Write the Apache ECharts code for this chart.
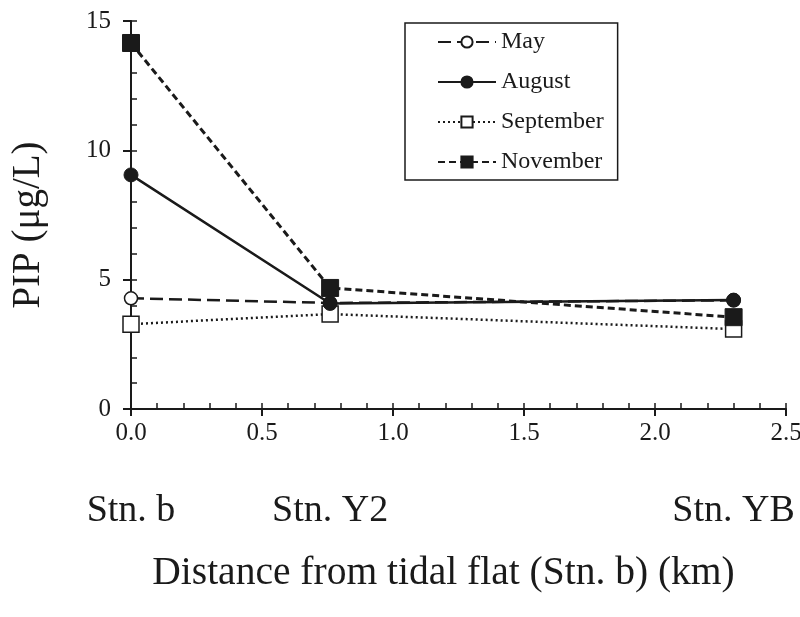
<!DOCTYPE html>
<html>
<head>
<meta charset="utf-8">
<script src="https://cdn.jsdelivr.net/npm/echarts@6/dist/echarts.min.js"></script>
<style>
  html, body { margin: 0; padding: 0; background: #fff; }
  #chart { width: 800px; height: 617px; }
</style>
</head>
<body>
<div id="chart"></div>
<script>
// distance of each station from the tidal flat (km)
let stationKm    = [0, 0.76, 2.3];
let stationNames = ['Stn. b', 'Stn. Y2', 'Stn. YB'];

// PIP (ug/L) at each station
let may       = [4.28, 4.1, 4.2];
let august    = [9.05, 4.08, 4.21];
let september = [3.28, 3.67, 3.09];
let november  = [14.15, 4.68, 3.55];

let seriesNames = ['May', 'August', 'September', 'November'];

let font = 'Liberation Serif';
let ink  = '#1a1a1a';

function pairs(ys) {
    return stationKm.map((x, i) => [x, ys[i]]);
}

let chart = echarts.init(document.getElementById('chart'), null, {renderer: 'canvas'});

let option = {
    animation: false,
    backgroundColor: '#fff',
    textStyle: {fontFamily: font, color: ink},
    grid: {left: 131, right: 14, top: 21, bottom: 208, containLabel: false, outerBoundsMode: 'none'},
    legend: {
        data: seriesNames,
        orient: 'vertical',
        left: 405,
        top: 23,
        padding: [7, 14, 6, 32],
        itemGap: 16,
        itemWidth: 58,
        itemHeight: 14,
        borderColor: ink,
        borderWidth: 1.5,
        textStyle: {fontFamily: font, fontSize: 24, color: ink}
    },
    xAxis: [
        {
            // main axis: labels + outward major ticks
            type: 'value', min: 0, max: 2.5, interval: 0.5,
            axisLine: {lineStyle: {color: ink, width: 2}},
            axisTick: {length: 7, lineStyle: {color: ink, width: 2}},
            axisLabel: {fontFamily: font, fontSize: 25, color: ink, margin: 12,
                        formatter: v => v.toFixed(1)},
            splitLine: {show: false}
        },
        {
            // inside minor ticks every 0.1
            type: 'value', min: 0, max: 2.5, interval: 0.1, position: 'bottom',
            axisLine: {show: false},
            axisTick: {inside: true, length: 6, lineStyle: {color: ink, width: 1.5}},
            axisLabel: {show: false},
            splitLine: {show: false}
        },
        {
            // station names under their distance
            type: 'value', min: 0, max: 2.5, position: 'bottom', offset: 83,
            axisLine: {show: false},
            axisTick: {show: false},
            axisLabel: {
                fontFamily: font, fontSize: 38, color: ink, margin: 0,
                customValues: stationKm,
                formatter: v => stationNames[stationKm.indexOf(v)] || ''
            },
            splitLine: {show: false},
            name: 'Distance from tidal flat (Stn. b) (km)',
            nameLocation: 'middle',
            nameGap: 62,
            nameTextStyle: {fontFamily: font, fontSize: 39.5, color: ink, padding: [0, 30, 0, 0]}
        }
    ],
    yAxis: [
        {
            type: 'value', min: 0, max: 15, interval: 5,
            axisLine: {show: true, lineStyle: {color: ink, width: 2}},
            axisTick: {show: true, length: 8, lineStyle: {color: ink, width: 2}},
            axisLabel: {fontFamily: font, fontSize: 25, color: ink, margin: 20},
            splitLine: {show: false},
            name: 'PIP (μg/L)',
            nameLocation: 'middle',
            nameGap: 83,
            nameTextStyle: {fontFamily: font, fontSize: 39, color: ink, padding: [0, 20, 0, 0]}
        },
        {
            type: 'value', min: 0, max: 15, interval: 1, position: 'left',
            axisLine: {show: false},
            axisTick: {show: true, inside: true, length: 6, lineStyle: {color: ink, width: 1.5}},
            axisLabel: {show: false},
            splitLine: {show: false}
        }
    ],
    series: [
        {
            name: 'May', type: 'line', z: 3, data: pairs(may),
            symbol: 'circle', symbolSize: 13,
            lineStyle: {color: ink, width: 2.5, type: [13, 6]},
            itemStyle: {color: '#fff', borderColor: ink, borderWidth: 1.5}
        },
        {
            name: 'August', type: 'line', z: 5, data: pairs(august),
            symbol: 'circle', symbolSize: 14,
            lineStyle: {color: ink, width: 2.5, type: 'solid'},
            itemStyle: {color: ink, borderColor: ink, borderWidth: 1}
        },
        {
            name: 'September', type: 'line', z: 4, data: pairs(september),
            symbol: 'rect', symbolSize: 16,
            lineStyle: {color: ink, width: 2.5, type: [2, 3]},
            itemStyle: {color: '#fff', borderColor: ink, borderWidth: 1.5}
        },
        {
            name: 'November', type: 'line', z: 6, data: pairs(november),
            symbol: 'rect', symbolSize: 17,
            lineStyle: {color: ink, width: 3, type: [7, 4]},
            itemStyle: {color: ink, borderColor: ink, borderWidth: 1}
        }
    ]
};

chart.setOption(option);
</script>
</body>
</html>
